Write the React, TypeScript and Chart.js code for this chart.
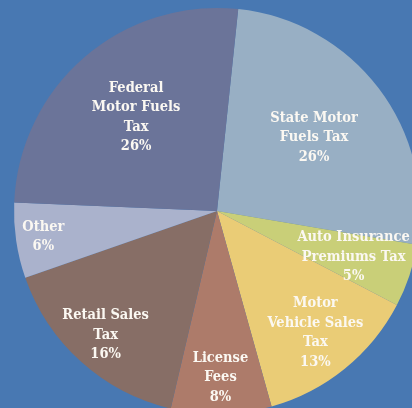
import React, { useEffect, useRef } from "react";
import { Chart, registerables } from "chart.js";

Chart.register(...registerables);

const categories: string[][] = [
  ["State Motor", "Fuels Tax"],
  ["Auto Insurance", "Premiums Tax"],
  ["Motor", "Vehicle Sales", "Tax"],
  ["License", "Fees"],
  ["Retail Sales", "Tax"],
  ["Other"],
  ["Federal", "Motor Fuels", "Tax"],
];
const shares: number[] = [26, 5, 13, 8, 16, 6, 26];
const sliceColors: string[] = [
  "#98afc4",
  "#c9cf78",
  "#eacc76",
  "#ad7b6a",
  "#876e66",
  "#aab2cc",
  "#6b7499",
];
// radial placement of each label, as a fraction of the radius
const labelRadius: number[] = [0.6, 0.71, 0.77, 0.82, 0.82, 0.865, 0.61];

const BG = "#4878b2";
const LABEL_FONT = "bold 15px \"DejaVu Serif\"";
const X_SQUEEZE = 0.87;

const labelPlugin = {
  id: "sliceLabels",
  afterDatasetsDraw(chart: any) {
    const ctx = chart.ctx;
    const meta = chart.getDatasetMeta(0);
    ctx.save();
    ctx.fillStyle = "#fbf8f2";
    ctx.font = LABEL_FONT;
    ctx.textAlign = "center";
    ctx.textBaseline = "middle";
    const lineH = 19.5;
    meta.data.forEach((arc: any, i: number) => {
      const p = arc.getProps(["x", "y", "startAngle", "endAngle", "outerRadius"], true);
      const mid = (p.startAngle + p.endAngle) / 2;
      const r = p.outerRadius * labelRadius[i];
      const cx = p.x + Math.cos(mid) * r;
      const cy = p.y + Math.sin(mid) * r;
      const lines = [...categories[i], shares[i] + "%"];
      const top = cy - ((lines.length - 1) * lineH) / 2;
      lines.forEach((ln, k) => {
        ctx.save();
        ctx.translate(cx, top + k * lineH);
        ctx.scale(X_SQUEEZE, 1);
        ctx.fillText(ln, 0, 0);
        ctx.restore();
      });
    });
    ctx.restore();
  },
};

export default function App() {
  const ref = useRef<HTMLCanvasElement | null>(null);
  useEffect(() => {
    if (!ref.current) return;
    const chart = new Chart(ref.current, {
      type: "pie",
      data: {
        labels: categories.map((c) => c.join(" ")),
        datasets: [
          {
            data: shares,
            backgroundColor: sliceColors,
            borderWidth: 0,
            radius: 203,
          },
        ],
      },
      options: {
        responsive: false,
        animation: false,
        rotation: 6,
        layout: { padding: 0 },
        plugins: {
          legend: { display: false },
          tooltip: { enabled: false },
        },
      },
      plugins: [labelPlugin],
    });
    let alive = true;
    if ((document as any).fonts && (document as any).fonts.load) {
      (document as any).fonts.load(LABEL_FONT).then(() => {
        if (alive) chart.draw();
      });
    }
    return () => {
      alive = false;
      chart.destroy();
    };
  }, []);
  return (
    <div
      style={{
        position: "fixed",
        left: 0,
        top: 0,
        width: 412,
        height: 408,
        background: BG,
        overflow: "hidden",
      }}
    >
      <canvas
        ref={ref}
        width={440}
        height={440}
        style={{ position: "absolute", left: -3, top: -9, width: 440, height: 440 }}
      />
    </div>
  );
}
